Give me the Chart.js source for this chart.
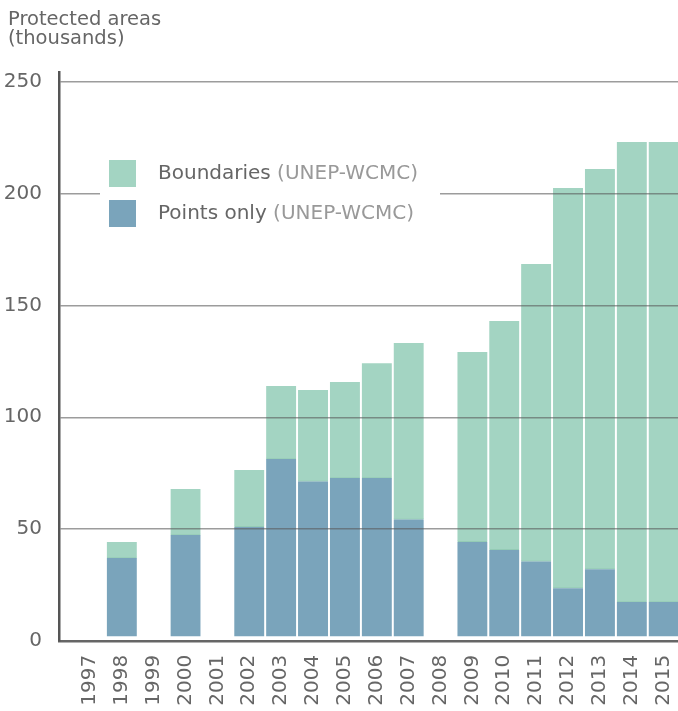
<!DOCTYPE html>
<html lang="en">
<head>
    <meta charset="UTF-8">
    <title>Protected areas</title>
    <script src="https://cdn.jsdelivr.net/npm/chart.js"></script>
    <style>
        html, body { margin: 0; padding: 0; background: #fff; }
        .chart-container { position: relative; width: 678px; height: 711px; }
    </style>
</head>
<body>
    <div class="chart-container">
        <canvas id="paChart"></canvas>
    </div>

    <script>
        // Data (thousands of protected areas)
        const years = [1997, 1998, 1999, 2000, 2001, 2002, 2003, 2004, 2005, 2006,
                       2007, 2008, 2009, 2010, 2011, 2012, 2013, 2014, 2015];
        const pointsOnly = [null, 37.0, null, 47.3, null, 50.9, 81.3, 71.3, 72.8, 72.8,
                            54.3, null, 44.2, 40.6, 35.5, 23.5, 32.0, 17.3, 17.3];
        const boundaries = [null, 7.2, null, 20.6, null, 25.5, 32.7, 40.9, 43.0, 51.4,
                            78.9, null, 85.0, 102.5, 133.1, 179.1, 179.1, 205.9, 205.9];
        const yTicks = [0, 50, 100, 150, 200, 250];

        const greenColor = '#a3d4c2';
        const blueColor = '#7aa4bb';
        const fontFamily = '"DejaVu Sans", sans-serif';

        Chart.defaults.font.family = fontFamily;
        Chart.defaults.color = '#666';

        // turn a value array into {x, y} points, dropping empty years
        function toPoints(values) {
            return years.map((yr, i) => ({ x: yr, y: values[i] })).filter(p => p.y !== null);
        }

        // Title in the top-left corner + legend box drawn on top of the grid
        const decorations = {
            id: 'decorations',
            afterDraw(chart) {
                const ctx = chart.ctx;
                ctx.save();
                ctx.fillStyle = '#666';
                ctx.font = '19.5px ' + fontFamily;
                ctx.textBaseline = 'alphabetic';
                ctx.fillText('Protected areas', 8, 25);
                ctx.fillText('(thousands)', 8, 44);

                // legend
                ctx.fillStyle = '#fff';
                ctx.fillRect(100, 150, 340, 90);
                const items = [
                    { label: 'Boundaries', color: greenColor },
                    { label: 'Points only', color: blueColor }
                ];
                ctx.font = '20px ' + fontFamily;
                ctx.textBaseline = 'middle';
                items.forEach((it, i) => {
                    const top = 160 + i * 40;
                    ctx.fillStyle = it.color;
                    ctx.fillRect(109, top, 27, 27);
                    ctx.fillStyle = '#666';
                    ctx.fillText(it.label, 158, top + 14);
                    const w = ctx.measureText(it.label + ' ').width;
                    ctx.fillStyle = '#999';
                    ctx.fillText('(UNEP-WCMC)', 158 + w, top + 14);
                });
                ctx.restore();
            }
        };

        const ctx = document.getElementById('paChart').getContext('2d');
        const paChart = new Chart(ctx, {
            type: 'bar',
            data: {
                datasets: [
                    {
                        label: 'Points only (UNEP-WCMC)',
                        data: toPoints(pointsOnly),
                        backgroundColor: blueColor,
                        borderColor: '#fff',
                        borderWidth: { top: 0, left: 0, right: 0, bottom: 4 },
                        borderSkipped: false,
                        barThickness: 30
                    },
                    {
                        label: 'Boundaries (UNEP-WCMC)',
                        data: toPoints(boundaries),
                        backgroundColor: greenColor,
                        borderColor: '#8fc8b1',
                        borderWidth: { top: 0, left: 0, right: 0, bottom: 1 },
                        borderSkipped: false,
                        barThickness: 30
                    }
                ]
            },
            options: {
                responsive: true,
                maintainAspectRatio: false,
                animation: false,
                layout: { padding: { top: 72, left: 5, right: 0, bottom: 0 } },
                plugins: {
                    legend: { display: false },
                    tooltip: { enabled: false },
                    title: { display: false }
                },
                scales: {
                    x: {
                        type: 'linear',
                        stacked: true,
                        offset: false,
                        min: 1996.03,
                        max: 2015.45,
                        afterBuildTicks: s => { s.ticks = years.map(v => ({ value: v })); },
                        afterFit: s => { s.height = 70.25; s.paddingLeft = 0; s.paddingRight = 0; },
                        grid: { display: false, drawTicks: false },
                        border: { display: true, color: '#666', width: 2.5, z: 1 },
                        ticks: {
                            autoSkip: false,
                            minRotation: 90,
                            maxRotation: 90,
                            padding: 14,
                            color: '#666',
                            font: { size: 20 },
                            callback: v => String(v)
                        }
                    },
                    y: {
                        stacked: true,
                        min: 0,
                        max: 254.5,
                        afterBuildTicks: s => { s.ticks = yTicks.map(v => ({ value: v })); },
                        afterFit: s => { s.width = 54; },
                        grid: {
                            z: 1,
                            drawTicks: false,
                            lineWidth: 1.5,
                            color: c => (c.tick && c.tick.value === 0) ? 'rgba(0,0,0,0)' : 'rgba(90,90,90,0.6)'
                        },
                        border: { display: true, color: '#555', width: 2.5, z: 1 },
                        ticks: {
                            padding: 17,
                            color: '#666',
                            font: { size: 20 }
                        }
                    }
                }
            },
            plugins: [decorations]
        });
    </script>
</body>
</html>
